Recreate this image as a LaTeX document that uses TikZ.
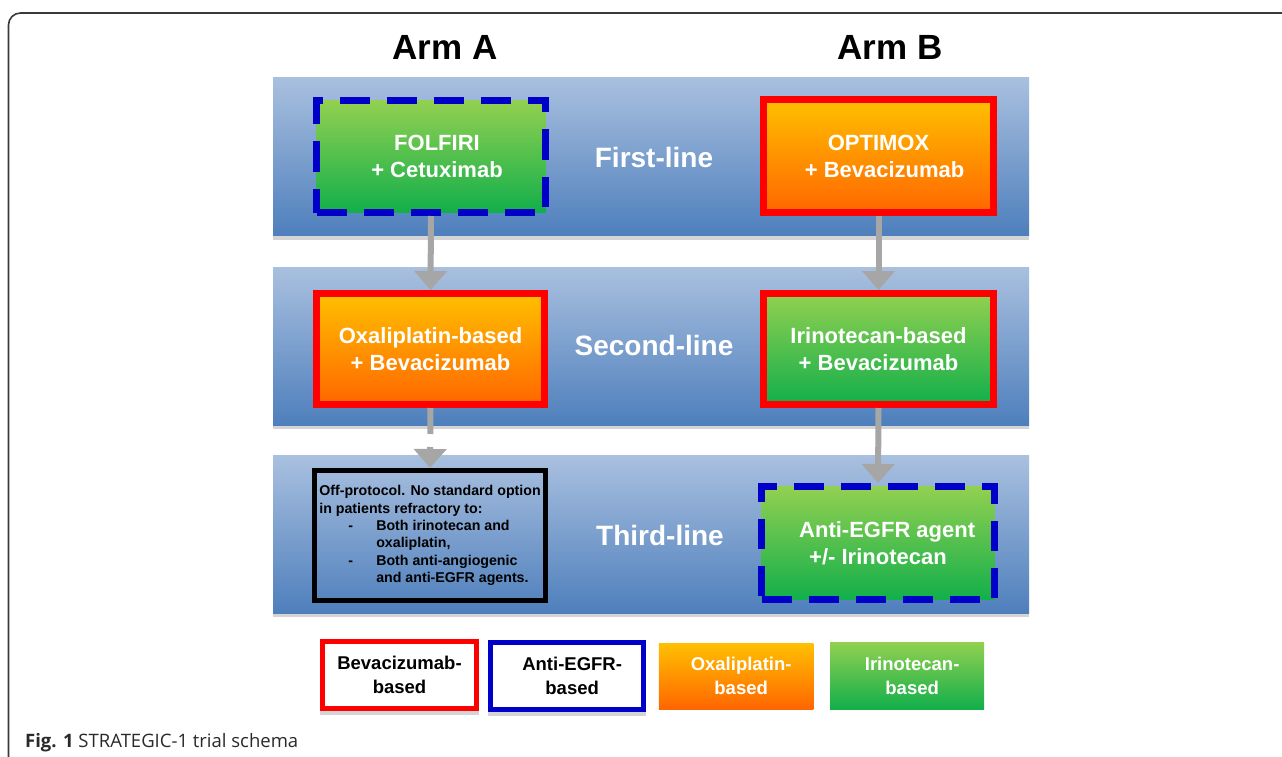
\documentclass[tikz,border=0pt]{standalone}
\usepackage{fontspec}
\setmainfont{Liberation Sans}
\newfontfamily\capfont{Open Sans}
\usetikzlibrary{arrows.meta,shadows}
\definecolor{bandtop}{HTML}{A9C0DF}
\definecolor{bandbot}{HTML}{4E7FBC}
\definecolor{grtop}{HTML}{92D050}
\definecolor{grbot}{HTML}{12AF4B}
\definecolor{ortop}{HTML}{FFC000}
\definecolor{orbot}{HTML}{FF6600}
\definecolor{redb}{HTML}{FF0000}
\definecolor{blueb}{HTML}{0000C8}
\definecolor{arrowgray}{HTML}{A6A6A6}
\definecolor{framecol}{HTML}{3A3A3A}
\definecolor{capcol}{HTML}{2A2A2A}
\definecolor{shadowgray}{HTML}{D4D4D4}
\begin{document}
\begin{tikzpicture}[x=1pt,y=-1pt,
  title/.style={font=\fontsize{35}{40}\selectfont\bfseries, text=black},
  band/.style={inner sep=0pt, minimum width=756pt, minimum height=158pt,
    top color=bandtop, bottom color=bandbot, draw=none},
  bandshadow/.style={fill=shadowgray, draw=none, inner sep=0pt, minimum width=756pt, minimum height=4pt},
  rowlab/.style={font=\fontsize{28}{32}\selectfont\bfseries, text=white},
  boxtext/.style={font=\fontsize{22}{27}\selectfont\bfseries, text=white, align=center, inner sep=0pt},
  greenfill/.style={top color=grtop, bottom color=grbot},
  orangefill/.style={top color=ortop, bottom color=orbot},
  redbox/.style={draw=redb, line width=7pt, boxtext},
  bluedash/.style={draw=blueb, line width=7pt, dash pattern=on 30pt off 17pt, boxtext},
  offbox/.style={draw=black, line width=5pt, font=\fontsize{14.2}{17.4}\selectfont\bfseries,
    align=left, inner xsep=1pt, inner ysep=0pt},
  legtext/.style={font=\fontsize{18.5}{24}\selectfont\bfseries, align=center, inner sep=0pt},
  legshadow/.style={fill=shadowgray, draw=none, inner sep=0pt},
  flow/.style={draw=arrowgray, line width=6pt, -{Triangle[width=32pt,length=19pt]}},
  dashedflow/.style={flow, dash pattern=on 26pt off 13pt}
]
\useasboundingbox (0,0) rectangle (1282,757);
\fill[white] (0,0) rectangle (1282,757);
% frame
\draw[framecol, line width=1.6pt, rounded corners=12pt] (8.5,770) -- (8.5,13) -- (1295,13);

% titles
\node[title] (armA) at (445,47) {Arm A};
\node[title] (armB) at (890,47) {Arm B};

% bands with shadows
\node[bandshadow] (sh1) at (651,237.5) {};
\node[bandshadow] (sh2) at (651,426.5) {};
\node[bandshadow] (sh3) at (651,615) {};
\node[band] (band1) at (651,156.5) {};
\node[band] (band2) at (651,346) {};
\node[band] (band3) at (651,534.5) {};

% row labels
\node[rowlab] (l1) at (654,157) {First-line};
\node[rowlab] (l2) at (654,345) {Second-line};
\node[rowlab] (l3) at (660,535) {Third-line};

% boxes
\node[bluedash, greenfill, minimum width=229pt, minimum height=112pt] (folfiri) at (431,156.5)
  {\hspace*{12pt}FOLFIRI\\\hspace*{12pt}+ Cetuximab};
\node[redbox, orangefill, minimum width=230pt, minimum height=113pt] (optimox) at (878.5,156)
  {OPTIMOX\\\ \ + Bevacizumab};
\node[redbox, orangefill, minimum width=228pt, minimum height=111pt] (oxa) at (430.5,349)
  {Oxaliplatin-based\\+ Bevacizumab};
\node[redbox, greenfill, minimum width=230pt, minimum height=111pt] (iri) at (878.5,349)
  {Irinotecan-based\\+ Bevacizumab};
\node[offbox, minimum width=231pt, minimum height=130pt] (off) at (430,535.5)
  {Off-protocol. No standard option\\
   in patients refractory to:\\
   \hspace*{29pt}\makebox[28pt][l]{-}Both irinotecan and\\
   \hspace*{57pt}oxaliplatin,\\
   \hspace*{29pt}\makebox[28pt][l]{-}Both anti-angiogenic\\
   \hspace*{57pt}and anti-EGFR agents.};
\node[bluedash, greenfill, minimum width=233pt, minimum height=113pt] (egfr) at (878,543)
  {\ \ \ Anti-EGFR agent\\+/- Irinotecan};

% legend
\node[legshadow, minimum width=159pt, minimum height=6pt] (bevsh) at (399.5,712) {};
\node[legshadow, minimum width=158pt, minimum height=6pt] (antish) at (567,713) {};
\node[legtext, draw=redb, line width=5pt, fill=white, text=black, minimum width=154pt, minimum height=67pt] (bev) at (399.5,675)
  {Bevacizumab-\\based};
\node[legtext, draw=blueb, line width=5pt, fill=white, text=black, minimum width=153.5pt, minimum height=67pt] (anti) at (567,676)
  {\ \ Anti-EGFR-\\\ \ based};
\node[legtext, orangefill, text=white, minimum width=154.5pt, minimum height=66pt] (oxl) at (736,676)
  {\ \ Oxaliplatin-\\\ \ based};
\node[legtext, greenfill, text=white, minimum width=154pt, minimum height=67pt] (irl) at (907,675.5)
  {\ \ Irinotecan-\\\ \ based};

% caption
\node[anchor=base west, inner sep=0pt, text=capcol, font=\capfont\fontsize{18.5}{22}\selectfont] (cap) at (25,747)
  {\textbf{Fig. 1} STRATEGIC-1 trial schema};

% arrows
\draw[flow] (folfiri.south) -- (oxa.north);
\draw[flow] (optimox.south) -- (iri.north);
\draw[dashedflow] (oxa.south) -- (off.north);
\draw[flow] (iri.south) -- (egfr.north);
\end{tikzpicture}
\end{document}
